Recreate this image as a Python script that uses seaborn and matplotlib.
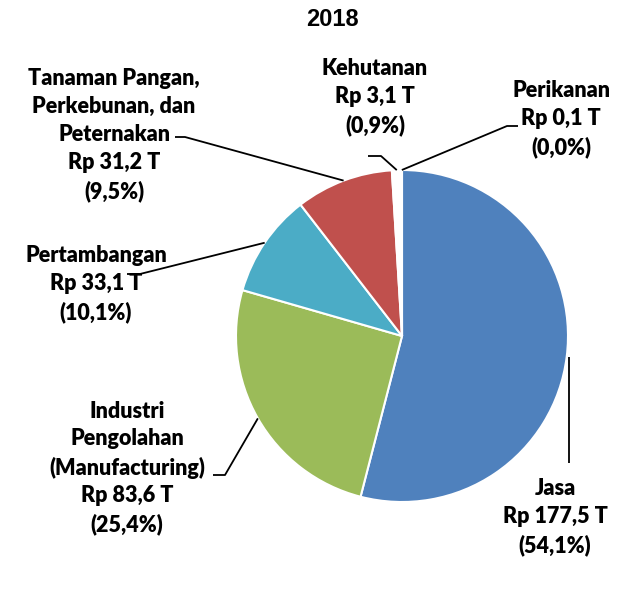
import numpy as np
import seaborn as sns
import matplotlib.pyplot as plt

# values in trillion rupiah, 2018
sectors = ["Jasa", "Industri\nPengolahan\n(Manufacturing)", "Pertambangan",
           "Tanaman Pangan,\nPerkebunan, dan\nPeternakan", "Kehutanan", "Perikanan"]
values = [177.5, 83.6, 33.1, 31.2, 3.1, 0.1]
amount_labels = ["Rp 177,5 T", "Rp 83,6 T", "Rp 33,1 T", "Rp 31,2 T", "Rp 3,1 T", "Rp 0,1 T"]
pct_labels = ["(54,1%)", "(25,4%)", "(10,1%)", "(9,5%)", "(0,9%)", "(0,0%)"]
colors = ["#4F81BD", "#9BBB59", "#4BACC6", "#C0504D", "#FFFFFF", "#F79646"]

sns.set_theme(style="white")
plt.rcParams['font.family'] = ['Lato', 'DejaVu Sans']

W, H = 625, 590
fig = plt.figure(figsize=(W / 100, H / 100), dpi=100)
ax = fig.add_axes([0, 0, 1, 1])

cx, cy, r = 402, H - 336, 166
wedges, _ = ax.pie(values, colors=colors, startangle=90, counterclock=False,
                   center=(cx, cy), radius=r,
                   wedgeprops=dict(edgecolor="white", linewidth=1.5))
ax.set_xlim(0, W)
ax.set_ylim(0, H)
ax.set_aspect("equal")
ax.axis("off")

# label block centre (pixel coords from top) and elbow of the leader line
label_pos = [(555, 517), (127, 468), (96, 284), (114, 135), (375, 97), (561, 119)]
elbows = [None, [(213, 475), (225, 475)], [(127, 274), (140, 274)],
          [(175, 137), (185, 137)], [(368, 156), (381, 156)], [(518, 126), (507, 126)]]

for w, name, amt, pct, (lx, ly), elb in zip(wedges, sectors, amount_labels,
                                             pct_labels, label_pos, elbows):
    ang = np.deg2rad((w.theta1 + w.theta2) / 2)
    ex, ey = cx + r * np.cos(ang), cy + r * np.sin(ang)
    if elb is None:
        xs = [ex + 2, ex + 2]
        ys = [ey, H - 463]
    else:
        xs = [p[0] for p in elb] + [ex]
        ys = [H - p[1] for p in elb] + [ey]
    ax.plot(xs, ys, color="black", lw=1.3, solid_capstyle="butt")
    ax.text(lx, H - ly, f"{name}\n{amt}\n{pct}", ha="center", va="center",
            fontsize=15.5, fontweight="heavy", linespacing=1.4, color="black")

ax.text(332, H - 20, "2018", ha="center", va="center", fontsize=17,
        fontweight="bold", family="Liberation Sans", color="black")

fig.savefig("out.png", dpi=100)
